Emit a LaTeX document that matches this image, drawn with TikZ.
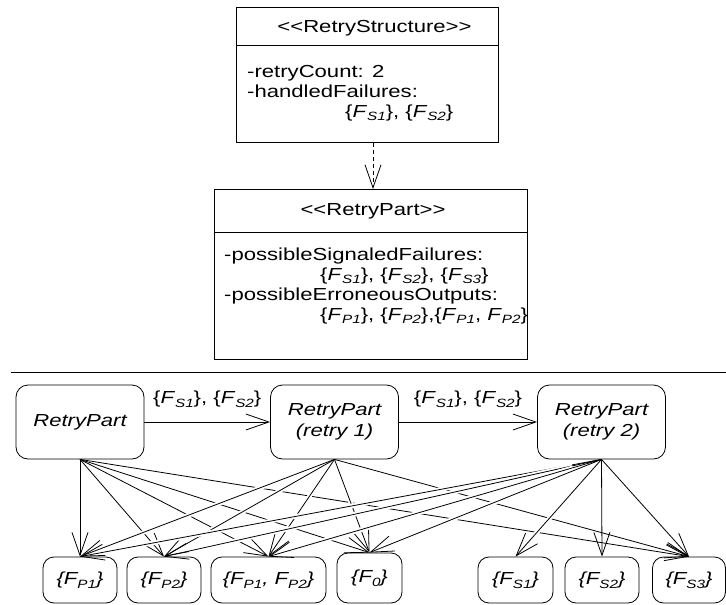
\documentclass[tikz,border=0pt]{standalone}
\usepackage{fontspec}
\setmainfont{Liberation Sans}[FakeStretch=1.27]
\usetikzlibrary{arrows.meta}
% index set lower and smaller than the letter it follows
\newcommand\subidx[1]{\raisebox{-0.22em}{\fontsize{12}{12}\selectfont\itshape #1}}
\newcommand\Fx[1]{\textit{F}\subidx{#1}}

\begin{document}
\begin{tikzpicture}[x=1pt,y=-1pt,
  font=\fontsize{17.4}{20}\selectfont,
  classbox/.style={draw, line width=0.9pt, anchor=north west, inner sep=0pt},
  txt/.style={anchor=base west, inner sep=0pt},
  state/.style={draw, line width=0.8pt, rounded corners=12pt,
    minimum width=128pt, minimum height=74pt, align=center,
    font=\fontsize{17.4}{21}\selectfont\itshape},
  result/.style={draw, line width=0.8pt, rounded corners=11pt,
    minimum height=46pt, inner sep=0pt,
    font=\fontsize{17.4}{20}\selectfont\itshape},
  barb/.style={-{Straight Barb[length=23pt,width=16pt]}},
  flow/.style={barb, line width=0.8pt},
  hop/.style={preaction={draw=white, -, line width=4.5pt,
    shorten <=30pt, shorten >=30pt}}
]
\useasboundingbox (0,0) rectangle (726,605);

% --- class RetryStructure ---
\node[classbox, minimum width=262pt, minimum height=135pt] (rs) at (236,7) {};
\draw[line width=0.8pt] ([yshift=-38pt]rs.north west) -- ([yshift=-38pt]rs.north east);
\node (rshead) at (374.5,28) {<{}<RetryStructure>{}>};
\node[txt] (rs1) at (247,77) {-retryCount: 2};
\node[txt] (rs2) at (247,97) {-handledFailures:};
\node[txt] (rs3) at (345,117) {\{\Fx{S1}\}, \{\Fx{S2}\}};

% --- class RetryPart ---
\node[classbox, minimum width=313pt, minimum height=170pt] (rp) at (214,189) {};
\draw[line width=0.8pt] ([yshift=-43pt]rp.north west) -- ([yshift=-43pt]rp.north east);
\node (rphead) at (373,211) {<{}<RetryPart>{}>};
\node[txt] (rp1) at (224,260) {-possibleSignaledFailures:};
\node[txt] (rp2) at (320,280) {\{\Fx{S1}\}, \{\Fx{S2}\}, \{\Fx{S3}\}};
\node[txt] (rp3) at (224,300) {-possibleErroneousOutputs:};
\node[txt] (rp4) at (320,320) {\{\Fx{P1}\}, \{\Fx{P2}\},\{\Fx{P1}, \Fx{P2}\}};

% instance relation between the two classes
\draw[barb, line width=0.8pt, dash pattern=on 4pt off 3pt]
  (rs.south -| rphead.center) -- (rp.north -| rphead.center);

% separator between class view and behaviour view
\draw[line width=1.6pt] (11,372.5) -- (726,372.5);

% --- retry states ---
\node[state] (A)  at (80,422)    {RetryPart};
\node[state] (R1) at (334.5,422) {RetryPart\\(retry 1)};
\node[state] (R2) at (601.5,422) {RetryPart\\(retry 2)};

\draw[flow] (A) -- node[midway, yshift=22.5pt, font=\fontsize{17.4}{20}\selectfont]
  {\{\Fx{S1}\}, \{\Fx{S2}\}} (R1);
\draw[flow] (R1) -- node[midway, yshift=22.5pt, font=\fontsize{17.4}{20}\selectfont]
  {\{\Fx{S1}\}, \{\Fx{S2}\}} (R2);

% --- outcomes ---
\node[result, minimum width=74pt]  (p1)  at (80,580)    {\{\Fx{P1}\}};
\node[result, minimum width=74pt]  (p2)  at (164,580)   {\{\Fx{P2}\}};
\node[result, minimum width=115pt] (p12) at (268.5,580) {\{\Fx{P1}, \Fx{P2}\}};
\node[result, minimum width=65pt, minimum height=50pt] (f0) at (369.5,578) {\{\Fx{0}\}};
\node[result, minimum width=75pt]  (s1)  at (515.5,580) {\{\Fx{S1}\}};
\node[result, minimum width=74pt]  (s2)  at (602,580)   {\{\Fx{S2}\}};
\node[result, minimum width=73pt]  (s3)  at (689,580)   {\{\Fx{S3}\}};

% outcome arrows; later ones break the earlier where they cross
\foreach \t in {p1,p2,p12,f0,s3}
  \draw[flow] (A.south) -- (\t.north);
\foreach \t in {p1,p2,p12,f0,s3}
  \draw[flow, hop] (R1.south) -- (\t.north);
\foreach \t in {p1,p2,p12,f0,s1,s2,s3}
  \draw[flow, hop] (R2.south) -- (\t.north);
\end{tikzpicture}
\end{document}
